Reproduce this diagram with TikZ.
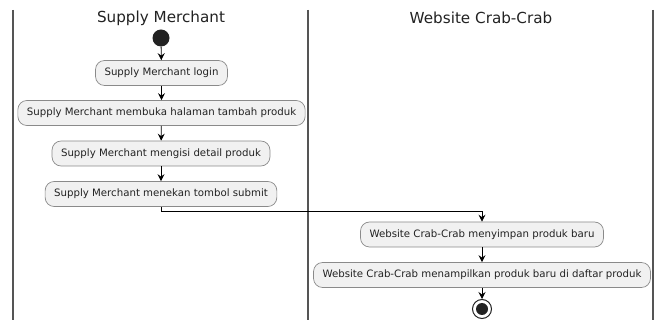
\documentclass[tikz,border=0pt]{standalone}
\usepackage{fontspec}
\setmainfont{DejaVu Sans}
\usetikzlibrary{arrows.meta}
\definecolor{boxfill}{HTML}{F1F1F1}
\definecolor{boxdraw}{HTML}{8A8A8A}
\definecolor{lanecol}{HTML}{555555}
\definecolor{txtcol}{HTML}{222222}
\begin{document}
\begin{tikzpicture}[x=1pt,y=-1pt,
  act/.style={draw=boxdraw,line width=0.7pt,fill=boxfill,rounded corners=9pt,
    minimum height=25pt,inner xsep=9pt,inner ysep=0pt,text=txtcol,
    font=\fontsize{10.2}{12}\selectfont},
  lane/.style={draw=lanecol,line width=1.4pt},
  title/.style={text=txtcol,font=\fontsize{15.2}{18}\selectfont},
  flow/.style={draw=black,line width=0.8pt,-{Stealth[length=7pt,width=7pt,inset=2.5pt]}}]
\useasboundingbox (0,0) rectangle (659,320);
\fill[white] (0,0) rectangle (659,320);
\coordinate (l0t) at (13,10); \coordinate (l0b) at (13,320);
\coordinate (l1t) at (308,10); \coordinate (l1b) at (308,320);
\coordinate (l2t) at (653,10); \coordinate (l2b) at (653,320);
\draw[lane] (l0t) -- (l0b);
\draw[lane] (l1t) -- (l1b);
\draw[lane] (l2t) -- (l2b);
\node[title] (t1) at (161,18) {Supply Merchant};
\node[title] (t2) at (481,18) {Website Crab-Crab};
\node[circle,fill=txtcol,minimum size=17pt,inner sep=0pt] (start) at (161,38) {};
\node[act] (b1) at (161.5,73) {Supply Merchant login};
\node[act] (b2) at (161.5,113) {Supply Merchant membuka halaman tambah produk};
\node[act] (b3) at (161,153.5) {Supply Merchant mengisi detail produk};
\node[act] (b4) at (161,194) {Supply Merchant menekan tombol submit};
\node[act] (b5) at (482,234.5) {Website Crab-Crab menyimpan produk baru};
\node[act] (b6) at (482,275) {Website Crab-Crab menampilkan produk baru di daftar produk};
\node[circle,draw=txtcol,line width=1pt,fill=white,minimum size=19pt,inner sep=0pt] (stop) at (482,309) {};
\node[circle,fill=txtcol,minimum size=12pt,inner sep=0pt] (stopin) at (stop.center) {};
\draw[flow] (start) -- (b1);
\draw[flow] (b1) -- (b2);
\draw[flow] (b2) -- (b3);
\draw[flow] (b3) -- (b4);
\coordinate (turn) at (161,211);
\draw[flow] (b4.south) -- (turn) -| (b5.north);
\draw[flow] (b5) -- (b6);
\draw[flow] (b6) -- (stop);
\end{tikzpicture}
\end{document}
